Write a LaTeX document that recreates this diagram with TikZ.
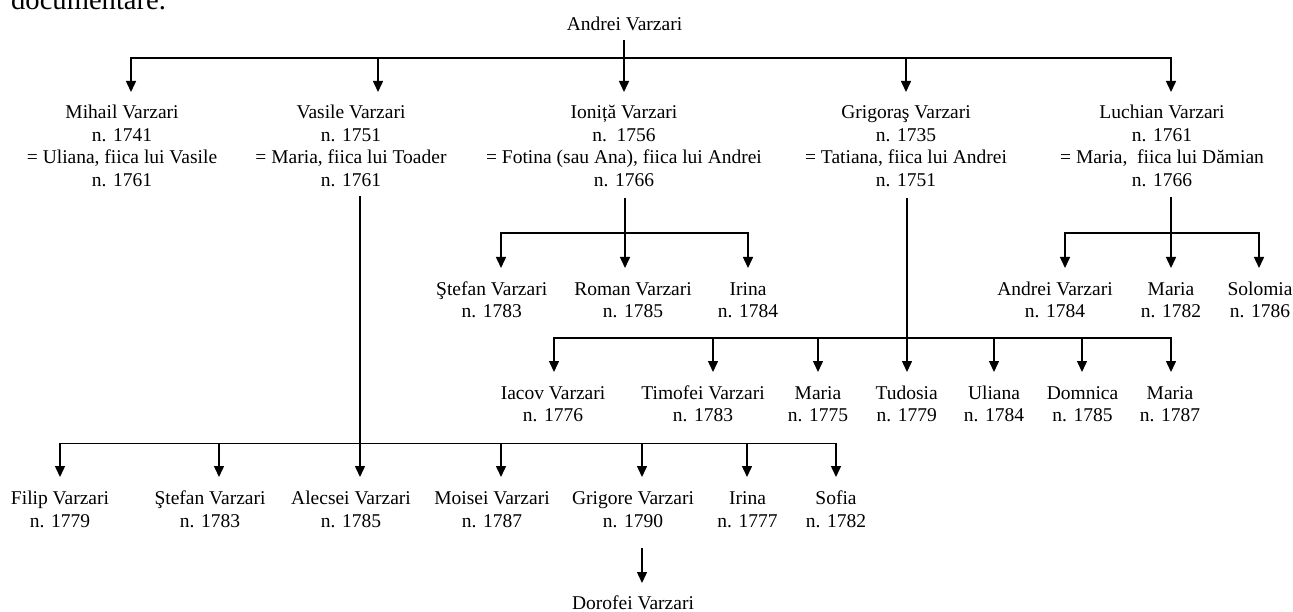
\documentclass[tikz,border=0pt]{standalone}
\usepackage{fontspec}
\setmainfont{Liberation Serif}
\usetikzlibrary{arrows.meta}
\newcommand{\fs}{\fontsize{19.5pt}{22.5pt}\selectfont}
\tikzset{
  person/.style={align=center, inner sep=0pt, font=\fs},
  arr/.style={line width=1.5pt, -{Triangle[width=10pt,length=11pt]}},
  ln/.style={line width=1.5pt}
}
\begin{document}
\begin{tikzpicture}[x=1pt,y=-1pt]
\useasboundingbox (0,0) rectangle (1293,612);
\clip (0,0) rectangle (1293,612);
\node[anchor=base west, inner sep=0pt, font=\fontsize{28.6pt}{30pt}\selectfont] (doc) at (11,10) {documentare.};

% generation 0
\node[person] (andrei) at (624.5,24) {Andrei Varzari};

% generation 1
\node[person] (mihail) at (122,146) {Mihail Varzari\\n. 1741\\= Uliana, fiica lui Vasile\\n. 1761};
\node[person] (vasile) at (351,146) {Vasile Varzari\\n. 1751\\= Maria, fiica lui Toader\\n. 1761};
\node[person] (ionita) at (624,146) {Ioniță Varzari\\n.\ \ 1756\\= Fotina (sau Ana), fiica lui Andrei\\n. 1766};
\node[person] (grigoras) at (906,146) {Grigoraş Varzari\\n. 1735\\= Tatiana, fiica lui Andrei\\n. 1751};
\node[person] (luchian) at (1162,146) {Luchian Varzari\\n. 1761\\= Maria,\ \ fiica lui Dămian\\n. 1766};

% children of Ionita
\node[person] (stefanI) at (491.7,300) {Ştefan Varzari\\n. 1783};
\node[person] (roman) at (633,300) {Roman Varzari\\n. 1785};
\node[person] (irinaI) at (748,300) {Irina\\n. 1784};

% children of Luchian
\node[person] (andreiL) at (1055,300) {Andrei Varzari\\n. 1784};
\node[person] (mariaL) at (1171,300) {Maria\\n. 1782};
\node[person] (solomia) at (1260,300) {Solomia\\n. 1786};

% children of Grigoras
\node[person] (iacov) at (553,404) {Iacov Varzari\\n. 1776};
\node[person] (timofei) at (703,404) {Timofei Varzari\\n. 1783};
\node[person] (mariaG1) at (818,404) {Maria\\n. 1775};
\node[person] (tudosia) at (906.7,404) {Tudosia\\n. 1779};
\node[person] (uliana) at (994,404) {Uliana\\n. 1784};
\node[person] (domnica) at (1082.5,404) {Domnica\\n. 1785};
\node[person] (mariaG2) at (1170,404) {Maria\\n. 1787};

% children of Vasile
\node[person] (filip) at (60,509.5) {Filip Varzari\\n. 1779};
\node[person] (stefanV) at (210,509.5) {Ştefan Varzari\\n. 1783};
\node[person] (alecsei) at (351,509.5) {Alecsei Varzari\\n. 1785};
\node[person] (moisei) at (492,509.5) {Moisei Varzari\\n. 1787};
\node[person] (grigore) at (633,509.5) {Grigore Varzari\\n. 1790};
\node[person] (irinaV) at (747.5,509.5) {Irina\\n. 1777};
\node[person] (sofia) at (836,509.5) {Sofia\\n. 1782};

% grandchild
\node[person] (dorofei) at (633,603) {Dorofei Varzari};

% ---- connector coordinates ----
% gen 0 -> 1
\coordinate (sAndrei) at (624,40);
\coordinate (bAndrei) at (624,58);
\coordinate (tMihail) at (131,92);
\coordinate (tVasile) at (378,92);
\coordinate (tIonita) at (624,92);
\coordinate (tGrigoras) at (906,92);
\coordinate (tLuchian) at (1171,92);
\draw[arr] (sAndrei) -- (tIonita);
\draw[arr] (bAndrei) -| (tMihail);
\draw[arr] (bAndrei) -| (tVasile);
\draw[arr] (bAndrei) -| (tGrigoras);
\draw[arr] (bAndrei) -| (tLuchian);

% Ionita -> children
\coordinate (sIonita) at (625,198);
\coordinate (bIonita) at (625,233);
\coordinate (tStefanI) at (501,268);
\coordinate (tRoman) at (625,268);
\coordinate (tIrinaI) at (748,268);
\draw[arr] (sIonita) -- (tRoman);
\draw[arr] (bIonita) -| (tStefanI);
\draw[arr] (bIonita) -| (tIrinaI);

% Luchian -> children
\coordinate (sLuchian) at (1171,197);
\coordinate (bLuchian) at (1171,233);
\coordinate (tAndreiL) at (1065,268);
\coordinate (tMariaL) at (1171,268);
\coordinate (tSolomia) at (1259,268);
\draw[arr] (sLuchian) -- (tMariaL);
\draw[arr] (bLuchian) -| (tAndreiL);
\draw[arr] (bLuchian) -| (tSolomia);

% Grigoras -> children
\coordinate (sGrigoras) at (907,198);
\coordinate (bGrigoras) at (907,338);
\coordinate (tIacov) at (554,372);
\coordinate (tTimofei) at (713,372);
\coordinate (tMariaG1) at (818,372);
\coordinate (tTudosia) at (907,372);
\coordinate (tUliana) at (994,372);
\coordinate (tDomnica) at (1082,372);
\coordinate (tMariaG2) at (1171,372);
\draw[arr] (sGrigoras) -- (tTudosia);
\draw[arr] (bGrigoras) -| (tIacov);
\draw[arr] (bGrigoras) -| (tTimofei);
\draw[arr] (bGrigoras) -| (tMariaG1);
\draw[arr] (bGrigoras) -| (tUliana);
\draw[arr] (bGrigoras) -| (tDomnica);
\draw[arr] (bGrigoras) -| (tMariaG2);

% Vasile -> children
\coordinate (sVasile) at (360,196);
\coordinate (bVasile) at (360,443.5);
\coordinate (tFilip) at (60,477);
\coordinate (tStefanV) at (219,477);
\coordinate (tAlecsei) at (360,477);
\coordinate (tMoisei) at (501,477);
\coordinate (tGrigore) at (642,477);
\coordinate (tIrinaV) at (747,477);
\coordinate (tSofia) at (836,477);
\draw[arr] (sVasile) -- (tAlecsei);
\draw[arr] (bVasile) -| (tFilip);
\draw[arr] (bVasile) -| (tStefanV);
\draw[arr] (bVasile) -| (tMoisei);
\draw[arr] (bVasile) -| (tGrigore);
\draw[arr] (bVasile) -| (tIrinaV);
\draw[arr] (bVasile) -| (tSofia);

% Grigore -> Dorofei
\coordinate (sGrigore) at (642,548);
\coordinate (tDorofei) at (642,583);
\draw[arr] (sGrigore) -- (tDorofei);
\end{tikzpicture}
\end{document}
